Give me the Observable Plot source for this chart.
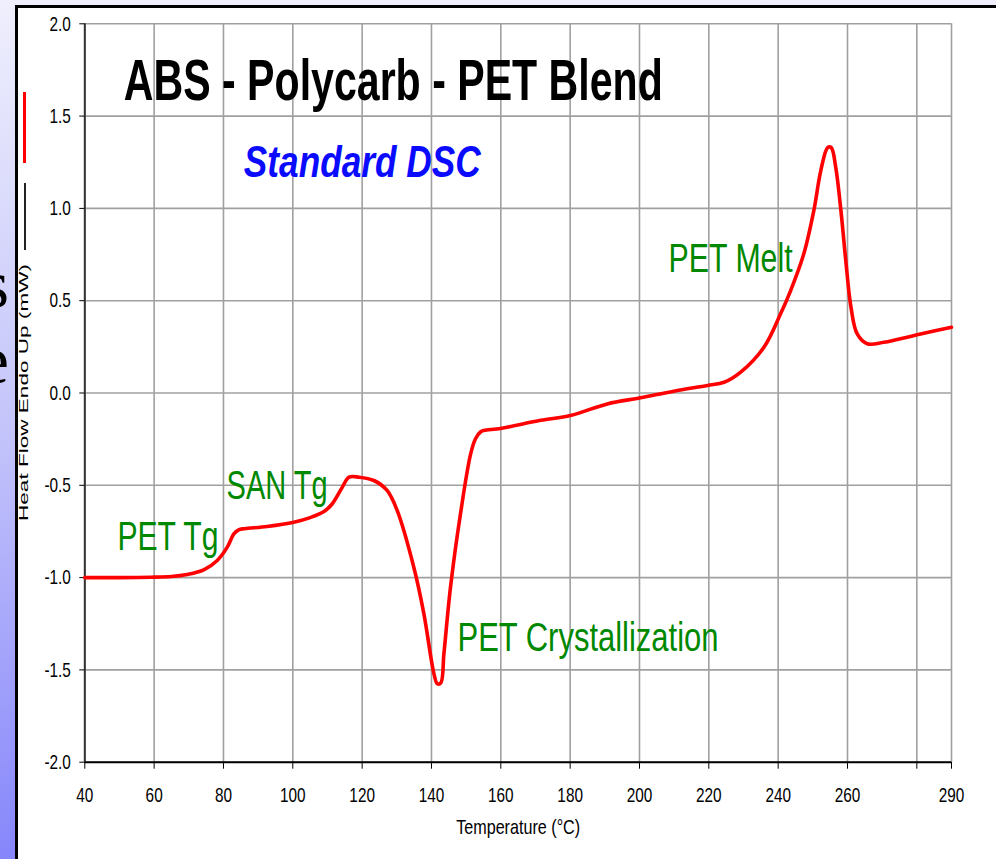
<!DOCTYPE html>
<html>
<head>
<meta charset="utf-8">
<script src="https://cdn.jsdelivr.net/npm/d3@7"></script>
<script src="https://cdn.jsdelivr.net/npm/@observablehq/plot@0.6"></script>
<style>
  html, body { margin: 0; padding: 0; width: 996px; height: 859px; overflow: hidden; }
  body { position: relative; background: linear-gradient(to bottom, #efeffd 0%, #c4c4fb 50%, #8686fb 100%); }
  #slideText { position: absolute; left: -91px; top: 246px; width: 100px; text-align: right;
    font-family: "Liberation Serif", "DejaVu Serif", serif; font-size: 68px; line-height: 76px; color: #000; }
  #panel { position: absolute; left: 15px; top: 5px; right: 0; bottom: 0; background: #fff;
    border-left: 3px solid #000; border-top: 3px solid #000; }
  #legend .sw { position: absolute; }
  #chart { position: absolute; left: 0; top: 0; }
</style>
</head>
<body>
<div id="slideText">s<br>e</div>
<div id="panel"></div>
<div id="legend">
  <div class="sw" style="left:23px; top:92px; width:3px; height:71px; background:#ff0000;"></div>
  <div class="sw" style="left:24px; top:183px; width:2px; height:67px; background:#222;"></div>
</div>
<div id="chart"></div>
<script>
// ---- data ----
const temperature = [40, 50, 59, 65, 69.5, 74.3, 78.2, 81.1, 83.0, 84.4, 86, 92.6, 100.3, 105, 109.0, 111.4, 114.3, 116.2, 119.1, 123.4, 127.2, 130.1, 134.9, 137.8, 140.7, 141.7, 142.7, 143.6, 145.5, 148.4, 151.3, 152.7, 154.2, 155.1, 159.9, 171.5, 180.1, 190.7, 200.3, 209.9, 219.6, 224.4, 229.2, 235.9, 240.7, 243.6, 247.4, 250.3, 252.3, 254.3, 255.3, 256.6, 258.1, 259.5, 261.0, 262.8, 265.7, 270.5, 281.1, 290];
const heatFlow = [-1.0, -1.0, -0.998, -0.994, -0.983, -0.958, -0.907, -0.835, -0.763, -0.741, -0.735, -0.723, -0.700, -0.675, -0.642, -0.60, -0.51, -0.456, -0.456, -0.474, -0.528, -0.636, -0.944, -1.195, -1.52, -1.575, -1.57, -1.41, -1.05, -0.65, -0.33, -0.248, -0.21, -0.203, -0.192, -0.148, -0.122, -0.059, -0.026, 0.010, 0.041, 0.058, 0.113, 0.248, 0.429, 0.555, 0.754, 0.989, 1.205, 1.33, 1.33, 1.223, 0.989, 0.718, 0.465, 0.32, 0.267, 0.275, 0.32, 0.356];

const xTicks = [40, 60, 80, 100, 120, 140, 160, 180, 200, 220, 240, 260, 280, 290];
const xTickLabels = ["40", "60", "80", "100", "120", "140", "160", "180", "200", "220", "240", "260", "", "290"];
const yTicks = [-2.0, -1.5, -1.0, -0.5, 0.0, 0.5, 1.0, 1.5, 2.0];
const yTickLabels = ["-2.0", "-1.5", "-1.0", "-0.5", "0.0", "0.5", "1.0", "1.5", "2.0"];

const labelTexts = ["PET Tg", "SAN Tg", "PET Crystallization", "PET Melt"];
const labelT = [49.4, 80.9, 147.5, 208.4];
const labelV = [-0.853, -0.573, -1.395, 0.658];

const titleText = "ABS - Polycarb - PET Blend";
const subtitleText = "Standard DSC";
const xLabel = "Temperature (°C)";
const yLabel = "Heat Flow Endo Up (mW)";

// ---- tables ----
const curve = temperature.map((t, i) => ({t, v: heatFlow[i]}));
const notes = labelTexts.map((s, i) => ({s, t: labelT[i], v: labelV[i]}));

const font = "'Liberation Sans', Arial, Helvetica, sans-serif";

const chart = Plot.plot({
  width: 996,
  height: 859,
  marginLeft: 84.3,
  marginRight: 45,
  marginTop: 23.3,
  marginBottom: 97.3,
  style: {background: "transparent", fontFamily: font, fontSize: "21px", color: "#000", overflow: "visible"},
  x: {domain: [40, 290]},
  y: {domain: [-2, 2]},
  marks: [
    Plot.gridX(xTicks, {stroke: "#a0a0a0", strokeOpacity: 1, strokeWidth: 1.6}),
    Plot.gridY(yTicks, {stroke: "#a0a0a0", strokeOpacity: 1, strokeWidth: 1.6}),
    Plot.ruleX([40], {stroke: "#333", strokeWidth: 2}),
    Plot.ruleY([-2], {stroke: "#000", strokeWidth: 2}),
    Plot.axisX(xTicks, {tickSize: 7, tickPadding: 18, tickFormat: d => xTickLabels[xTicks.indexOf(d)], label: null, stroke: "#000"}),
    Plot.axisY(yTicks, {tickSize: 5, tickPadding: 9, tickFormat: d => yTickLabels[yTicks.indexOf(d)], label: null, stroke: "#000"}),
    Plot.line(curve, {x: "t", y: "v", stroke: "#ff0000", strokeWidth: 3.6, curve: "catmull-rom"}),
    Plot.text(notes, {x: "t", y: "v", text: "s", textAnchor: "start", lineAnchor: "bottom", fill: "#008800", fontSize: 40, fontFamily: font}),
    Plot.text([titleText], {frameAnchor: "top-left", dx: 39, dy: 76, textAnchor: "start", lineAnchor: "bottom", fill: "#000", fontSize: 57, fontWeight: "bold", fontFamily: font}),
    Plot.text([subtitleText], {frameAnchor: "top-left", dx: 159, dy: 153.4, textAnchor: "start", lineAnchor: "bottom", fill: "#0a0aff", fontSize: 44, fontWeight: "bold", fontStyle: "italic", fontFamily: font}),
    Plot.text([xLabel], {frameAnchor: "bottom", dy: 71.5, lineAnchor: "bottom", fill: "#000", fontSize: 21, fontFamily: font}),
    Plot.text([yLabel], {frameAnchor: "left", dx: -57.3, dy: 128, rotate: -90, textAnchor: "start", lineAnchor: "bottom", fill: "#000", fontSize: 12.5, fontFamily: font})
  ]
});

document.getElementById("chart").appendChild(chart);

// horizontal squeeze of the (vertically stretched) original lettering
const targetWidths = new Map([
  [titleText, 539], [subtitleText, 237], ["PET Tg", 101], ["SAN Tg", 101],
  ["PET Crystallization", 261], ["PET Melt", 124], [yLabel, 257], [xLabel, 124]
]);
chart.querySelectorAll("text").forEach(t => {
  const s = t.textContent;
  const natural = t.getComputedTextLength();
  if (!(natural > 0)) return;
  const w = targetWidths.has(s) ? targetWidths.get(s) : natural * 0.73;
  t.setAttribute("textLength", w);
  t.setAttribute("lengthAdjust", "spacingAndGlyphs");
});
</script>
</body>
</html>
